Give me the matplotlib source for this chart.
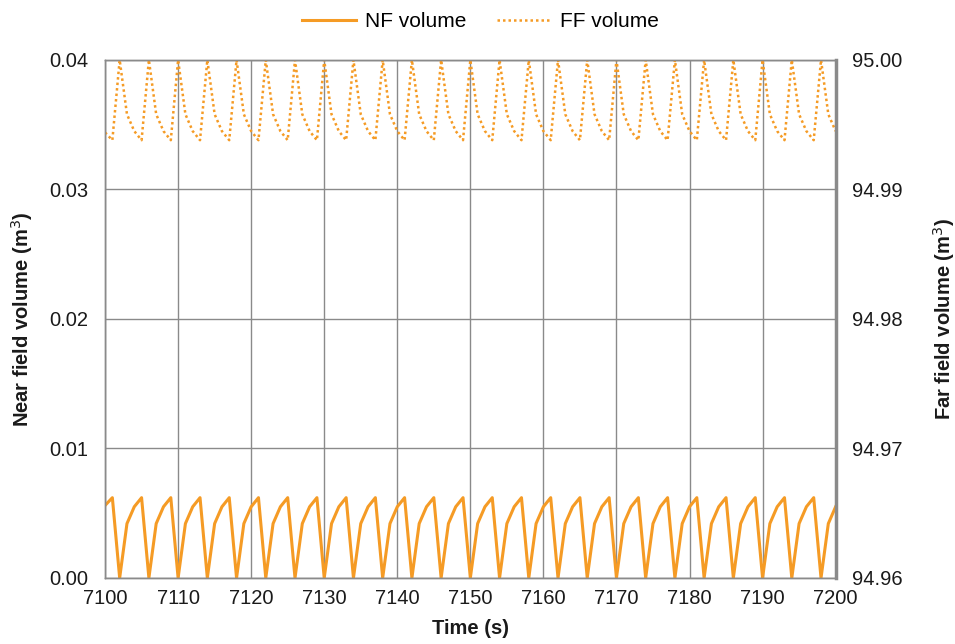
import matplotlib
matplotlib.use("Agg")
import matplotlib.pyplot as plt

plt.rcParams['font.family'] = ['Liberation Sans', 'DejaVu Sans']

# ── data (1 s samples) ──────────────────────────────────────────────────────
time = list(range(7100, 7201))

nf_volume = [
    0.0056, 0.0062,
    0.0, 0.0042, 0.0055, 0.0062, 0.0, 0.0042, 0.0055, 0.0062,
    0.0, 0.0042, 0.0055, 0.0062, 0.0, 0.0042, 0.0055, 0.0062,
    0.0, 0.0042, 0.0055, 0.0062, 0.0, 0.0042, 0.0055, 0.0062,
    0.0, 0.0042, 0.0055, 0.0062, 0.0, 0.0042, 0.0055, 0.0062,
    0.0, 0.0042, 0.0055, 0.0062, 0.0, 0.0042, 0.0055, 0.0062,
    0.0, 0.0042, 0.0055, 0.0062, 0.0, 0.0042, 0.0055, 0.0062,
    0.0, 0.0042, 0.0055, 0.0062, 0.0, 0.0042, 0.0055, 0.0062,
    0.0, 0.0042, 0.0055, 0.0062, 0.0, 0.0042, 0.0055, 0.0062,
    0.0, 0.0042, 0.0055, 0.0062, 0.0, 0.0042, 0.0055, 0.0062,
    0.0, 0.0042, 0.0055, 0.0062, 0.0, 0.0042, 0.0055, 0.0062,
    0.0, 0.0042, 0.0055, 0.0062, 0.0, 0.0042, 0.0055, 0.0062,
    0.0, 0.0042, 0.0055, 0.0062, 0.0, 0.0042, 0.0055, 0.0062,
    0.0, 0.0042, 0.0055,
]

ff_volume = [
    94.9944, 94.9938,
    95.0, 94.9958, 94.9945, 94.9938, 95.0, 94.9958, 94.9945, 94.9938,
    95.0, 94.9958, 94.9945, 94.9938, 95.0, 94.9958, 94.9945, 94.9938,
    95.0, 94.9958, 94.9945, 94.9938, 95.0, 94.9958, 94.9945, 94.9938,
    95.0, 94.9958, 94.9945, 94.9938, 95.0, 94.9958, 94.9945, 94.9938,
    95.0, 94.9958, 94.9945, 94.9938, 95.0, 94.9958, 94.9945, 94.9938,
    95.0, 94.9958, 94.9945, 94.9938, 95.0, 94.9958, 94.9945, 94.9938,
    95.0, 94.9958, 94.9945, 94.9938, 95.0, 94.9958, 94.9945, 94.9938,
    95.0, 94.9958, 94.9945, 94.9938, 95.0, 94.9958, 94.9945, 94.9938,
    95.0, 94.9958, 94.9945, 94.9938, 95.0, 94.9958, 94.9945, 94.9938,
    95.0, 94.9958, 94.9945, 94.9938, 95.0, 94.9958, 94.9945, 94.9938,
    95.0, 94.9958, 94.9945, 94.9938, 95.0, 94.9958, 94.9945, 94.9938,
    95.0, 94.9958, 94.9945, 94.9938, 95.0, 94.9958, 94.9945, 94.9938,
    95.0, 94.9958, 94.9945,
]

x_ticks  = list(range(7100, 7201, 10))
nf_ticks = [0.00, 0.01, 0.02, 0.03, 0.04]
ff_ticks = [94.96, 94.97, 94.98, 94.99, 95.00]

ORANGE = "#F59B25"
GRID   = "#8a8a8a"
TEXT   = "#1a1a1a"
FS     = 14.5

# ── figure ──────────────────────────────────────────────────────────────────
fig = plt.figure(figsize=(9.55, 6.44), dpi=100)
ax = fig.add_axes([0.110, 0.1025, 0.765, 0.8045])
ax2 = ax.twinx()

l1, = ax.plot(time, nf_volume, color=ORANGE, lw=2.2, label="NF volume")
l2, = ax2.plot(time, ff_volume, color=ORANGE, lw=1.8, ls=(0, (1, 1.2)), label="FF volume")

ax.set_xlim(7100, 7200)
ax.set_ylim(0, 0.04)
ax2.set_ylim(94.96, 95.00)
ax.set_xticks(x_ticks)
ax.set_yticks(nf_ticks)
ax2.set_yticks(ff_ticks)
ax.set_yticklabels([f"{v:.2f}" for v in nf_ticks])
ax2.set_yticklabels([f"{v:.2f}" for v in ff_ticks])

ax.grid(True, color=GRID, lw=1.0)
ax.set_axisbelow(True)
for a in (ax, ax2):
    a.tick_params(length=0, labelsize=FS, colors=TEXT, pad=12)
    for s in a.spines.values():
        s.set_color(GRID)
        s.set_linewidth(1.0)
ax.tick_params(axis="x", pad=8)
ax2.spines["right"].set_linewidth(2.5)

ax.set_xlabel("Time (s)", fontsize=FS, fontweight="bold", color=TEXT, labelpad=8)
ax.set_ylabel("Near field volume (m$^3$)", fontsize=FS, fontweight="bold", color=TEXT, labelpad=10)
ax2.set_ylabel("Far field volume (m$^3$)", fontsize=FS, fontweight="bold", color=TEXT, labelpad=20)

fig.legend([l1, l2], ["NF volume", "FF volume"], loc="upper center",
           bbox_to_anchor=(0.503, 1.01), ncol=2, frameon=False,
           fontsize=15, handlelength=2.6, columnspacing=1.5, handletextpad=0.4)

fig.savefig("out.png", dpi=100)
